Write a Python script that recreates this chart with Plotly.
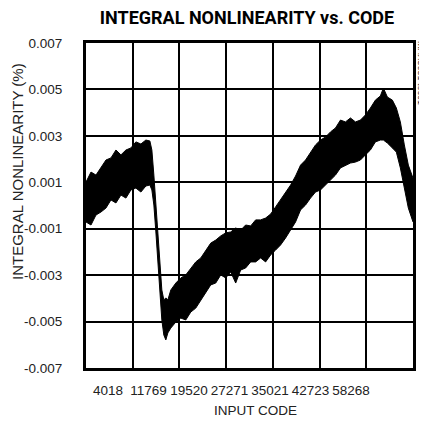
import plotly.graph_objects as go

# ---- data (INL in units of 0.001 %) ----
CODE = [0, 1000, 2000, 3000, 4000, 5000, 6000, 7000, 8000, 9000, 10000, 11000,
        12000, 12800, 13200, 13600, 14000, 14400, 14800, 15200, 15600, 16000,
        16400, 17000, 18000, 19000, 20000, 21000, 22000, 23000, 24000, 25000,
        26000, 27000, 28000, 29000, 30000, 31000, 32000, 33000, 34000, 35000,
        36000, 37000, 38000, 39000, 40000, 41000, 42000, 43000, 44000, 45000,
        46000, 47000, 48000, 49000, 50000, 51000, 52000, 53000, 54000, 55000,
        56000, 57000, 58000, 59000, 59600, 60400, 61400, 62200, 63000, 63800,
        64600, 65535]
INL_UPPER_M = [1.01, 1.44, 1.31, 1.62, 1.96, 2.05, 2.39, 2.18, 2.39, 2.48, 2.74, 2.65,
               2.82, 2.78, 2.39, 1.31, 0.02, -1.27, -2.56, -3.64, -4.07, -3.98,
               -4.07, -3.64, -3.34, -3.12, -2.99, -2.69, -2.43, -2.26, -1.92, -1.62,
               -1.49, -1.31, -1.18, -1.14, -0.97, -1.06, -0.84, -0.88, -0.62, -0.62,
               -0.54, -0.37, -0.06, 0.24, 0.58, 0.88, 1.27, 1.74, 1.96, 2.30,
               2.61, 2.82, 2.95, 3.17, 3.34, 3.68, 3.60, 3.77, 3.60, 3.68,
               3.90, 4.20, 4.54, 4.72, 5.06, 4.67, 4.54, 4.20, 3.60, 2.61,
               1.74, 1.18]
INL_LOWER_M = [-0.71, -0.84, -0.41, -0.28, -0.11, 0.24, 0.11, 0.45, 0.32, 0.67, 0.75, 0.58,
               0.84, 0.88, 0.67, 0.02, -1.14, -2.43, -3.73, -4.93, -5.58, -5.79,
               -5.49, -5.28, -5.02, -4.85, -4.93, -4.59, -4.42, -4.07, -3.73, -3.42,
               -3.34, -2.99, -3.12, -2.86, -3.34, -2.78, -2.69, -2.43, -2.43, -2.26,
               -2.43, -2.13, -1.92, -1.70, -1.40, -1.06, -0.71, -0.19, 0.02, 0.32,
               0.58, 0.67, 0.88, 1.10, 1.31, 1.62, 1.74, 1.83, 1.87, 1.96,
               2.18, 2.39, 2.74, 2.82, 2.82, 2.69, 2.48, 2.30, 1.62, 0.67,
               -0.11, -0.71]
X_TICK_LABELS = ["4018", "11769", "19520", "27271", "35021", "42723", "58268"]
Y_TICK_VALUES = [-0.007, -0.005, -0.003, -0.001, 0.001, 0.003, 0.005, 0.007]
Y_TICK_LABELS = ["-0.007", "-0.005", "-0.003", "-0.001", "0.001", "0.003", "0.005", "0.007"]

upper = [v / 1000 for v in INL_UPPER_M]
lower = [v / 1000 for v in INL_LOWER_M]

# layout constants (page has an 8 px body margin, so the figure is 8 px smaller)
XMAX = 65535
N_COLS = 7
label_pos = [4409 + i * 8117 for i in range(len(X_TICK_LABELS))]
FONT = "Liberation Sans, Arial, sans-serif"
TXT = "#222"
W, H = 419, 414

fig = go.Figure()
fig.add_trace(go.Scatter(x=CODE, y=lower, mode="lines",
                         line=dict(color="black", width=1), showlegend=False,
                         hoverinfo="skip"))
fig.add_trace(go.Scatter(x=CODE, y=upper, mode="lines",
                         line=dict(color="black", width=1), fill="tonexty",
                         fillcolor="black", showlegend=False))

fig.update_layout(
    width=W, height=H,
    margin=dict(l=78, r=14, t=35, b=54),
    paper_bgcolor="white", plot_bgcolor="white",
    font=dict(family=FONT, size=13, color=TXT),
    xaxis=dict(range=[0, XMAX], tickmode="array", tickvals=label_pos,
               ticktext=X_TICK_LABELS, tickangle=0, showgrid=False,
               minor=dict(tick0=0, dtick=XMAX / N_COLS, showgrid=True,
                          gridcolor="black", gridwidth=1.5, ticks=""),
               zeroline=False, showline=True, linecolor="black", linewidth=3,
               mirror=True, ticks="", ticklabelstandoff=8,
               tickfont=dict(family=FONT, size=13.5, color=TXT)),
    yaxis=dict(range=[-0.007, 0.007], tickmode="array", tickvals=Y_TICK_VALUES,
               ticktext=Y_TICK_LABELS, showgrid=True, gridcolor="black", gridwidth=1.5,
               zeroline=False, showline=True, linecolor="black", linewidth=3,
               mirror=True, ticks="", ticklabelstandoff=18,
               tickfont=dict(family=FONT, size=13.5, color=TXT)),
    title=dict(text="<b>INTEGRAL NONLINEARITY vs. CODE</b>", xref="container",
               yref="container", x=239 / W, y=1 - 10 / H, xanchor="center",
               yanchor="middle",
               font=dict(family="Roboto, Liberation Sans, sans-serif", size=18,
                         color="black", weight=900)),
)

fig.add_annotation(text="INTEGRAL NONLINEARITY (%)", xref="paper", yref="paper",
                   x=(17 - 86) / 327, y=(368 - 172) / 325, textangle=-90,
                   showarrow=False, xanchor="center", yanchor="middle",
                   font=dict(family=FONT, size=15, color=TXT))
fig.add_annotation(text="INPUT CODE", xref="paper", yref="paper",
                   x=(255 - 86) / 327, y=(368 - 410) / 325, showarrow=False,
                   xanchor="center", yanchor="middle",
                   font=dict(family=FONT, size=13.5, color=TXT))
fig.add_annotation(text="MAX5631 toc01", xref="paper", yref="paper",
                   x=(421 - 86) / 327, y=(368 - 73) / 325, textangle=90,
                   showarrow=False, xanchor="center", yanchor="middle",
                   font=dict(family=FONT, size=9, color="#333"))

fig.write_html("out.html")
